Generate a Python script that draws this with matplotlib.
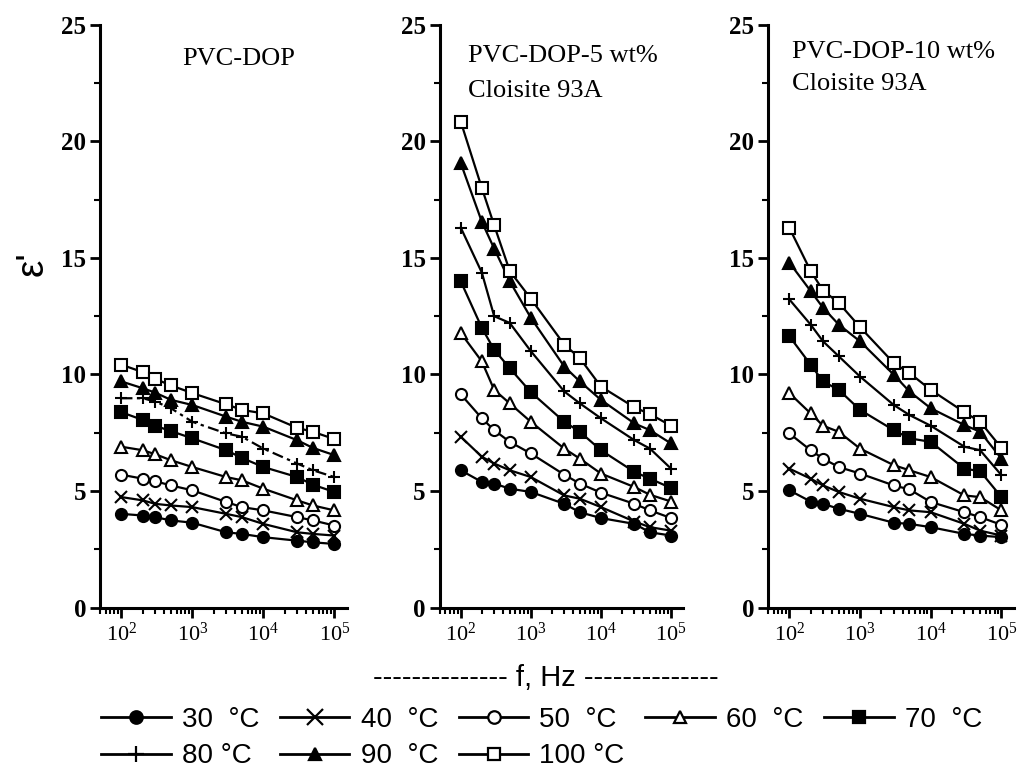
import numpy as np
import matplotlib
matplotlib.use("Agg")
import matplotlib.pyplot as plt
from matplotlib.lines import Line2D
from matplotlib.ticker import LogLocator, MultipleLocator

plt.rcParams["font.family"] = ["Liberation Serif", "DejaVu Serif"]
plt.rcParams["mathtext.fontset"] = "stix"

freq = [100, 200, 300, 500, 1000, 3000, 5000, 1e4, 3e4, 5e4, 1e5]
temps = ["30", "40", "50", "60", "70", "80", "90", "100"]
legend_labels = ["30  °C", "40  °C", "50  °C", "60  °C", "70  °C",
                 "80 °C", "90  °C", "100 °C"]

# PVC-DOP
eps_pvc = [
    [4.02, 3.95, 3.88, 3.74, 3.64, 3.23, 3.16, 3.02, 2.87, 2.80, 2.73],
    [4.74, 4.60, 4.45, 4.38, 4.31, 4.02, 3.88, 3.59, 3.23, 3.16, 3.09],
    [5.70, 5.53, 5.42, 5.24, 5.03, 4.53, 4.31, 4.17, 3.88, 3.74, 3.52],
    [6.90, 6.75, 6.58, 6.32, 6.03, 5.60, 5.46, 5.10, 4.60, 4.38, 4.17],
    [8.38, 8.05, 7.80, 7.57, 7.26, 6.75, 6.42, 6.03, 5.60, 5.27, 4.96],
    [8.98, 8.98, 8.84, 8.55, 7.97, 7.47, 7.33, 6.82, 6.18, 5.89, 5.60],
    [9.70, 9.41, 9.22, 8.91, 8.69, 8.19, 7.97, 7.76, 7.18, 6.85, 6.54],
    [10.42, 10.10, 9.81, 9.53, 9.20, 8.72, 8.48, 8.33, 7.71, 7.54, 7.23],
]

# PVC-DOP-5 wt% Cloisite 93A
eps_5 = [
    [5.89, 5.39, 5.32, 5.10, 4.96, 4.45, 4.09, 3.84, 3.59, 3.23, 3.09],
    [7.33, 6.47, 6.18, 5.89, 5.60, 4.81, 4.67, 4.31, 3.69, 3.45, 3.30],
    [9.15, 8.12, 7.61, 7.11, 6.61, 5.70, 5.32, 4.93, 4.45, 4.17, 3.84],
    [11.78, 10.56, 9.34, 8.76, 7.97, 6.82, 6.39, 5.75, 5.17, 4.84, 4.55],
    [14.0, 12.0, 11.06, 10.27, 9.24, 7.97, 7.54, 6.75, 5.82, 5.53, 5.13],
    [16.3, 14.37, 12.5, 12.21, 11.0, 9.27, 8.76, 8.12, 7.18, 6.82, 5.96],
    [19.07, 16.55, 15.4, 14.0, 12.43, 10.34, 9.70, 8.91, 7.90, 7.61, 7.04],
    [20.85, 18.0, 16.4, 14.44, 13.25, 11.28, 10.7, 9.48, 8.59, 8.30, 7.80],
]

# PVC-DOP-10 wt% Cloisite 93A
eps_10 = [
    [5.03, 4.55, 4.45, 4.24, 4.02, 3.64, 3.59, 3.45, 3.16, 3.09, 3.02],
    [5.96, 5.53, 5.24, 4.96, 4.67, 4.31, 4.17, 4.09, 3.59, 3.30, 3.09],
    [7.47, 6.75, 6.39, 6.03, 5.75, 5.24, 5.07, 4.53, 4.09, 3.88, 3.55],
    [9.20, 8.33, 7.80, 7.54, 6.82, 6.11, 5.89, 5.60, 4.81, 4.74, 4.17],
    [11.64, 10.42, 9.70, 9.34, 8.48, 7.61, 7.26, 7.11, 5.96, 5.85, 4.74],
    [13.22, 12.14, 11.42, 10.78, 9.91, 8.69, 8.26, 7.80, 6.90, 6.75, 5.68],
    [14.80, 13.58, 12.86, 12.14, 11.42, 9.99, 9.27, 8.55, 7.83, 7.54, 6.39],
    [16.29, 14.44, 13.6, 13.07, 12.03, 10.49, 10.06, 9.34, 8.38, 7.97, 6.85],
]

markers = ["o", "x", "o", "^", "s", "+", "^", "s"]
filled = [True, True, False, False, True, True, True, False]

panels = [
    (eps_pvc, ["PVC-DOP"], [0.098, 0.242]),
    (eps_5, ["PVC-DOP-5 wt%", "Cloisite 93A"], [0.431, 0.239]),
    (eps_10, ["PVC-DOP-10 wt%", "Cloisite 93A"], [0.753, 0.241]),
]

fig = plt.figure(figsize=(10.2, 7.74), dpi=100)

title_pos = [
    [(182, 65)],
    [(468, 62), (468, 97)],
    [(792, 58), (792, 90)],
]

for p, (data, title, (left, width)) in enumerate(panels):
    ax = fig.add_axes([left, 0.215, width, 0.753])
    for i, vals in enumerate(data):
        ls = "-"
        if p == 0 and temps[i] == "80":
            ls = (0, (5, 2, 1.5, 2))
        ax.plot(freq, vals, color="black", lw=1.6, ls=ls,
                marker=markers[i], ms=8 if markers[i] not in "x+" else 9,
                mfc="black" if filled[i] else "white", mec="black",
                mew=1.5, zorder=3 + i * 0.01)
    ax.set_xscale("log")
    ax.set_xlim(50, 1.5e5)
    ax.set_ylim(0, 25)
    ax.yaxis.set_major_locator(MultipleLocator(5))
    ax.yaxis.set_minor_locator(MultipleLocator(2.5))
    ax.xaxis.set_major_locator(LogLocator(base=10, numticks=10))
    ax.xaxis.set_minor_locator(LogLocator(base=10, subs=np.arange(2, 10), numticks=20))
    for s in ["top", "right"]:
        ax.spines[s].set_visible(False)
    for s in ["left", "bottom"]:
        ax.spines[s].set_linewidth(2.2)
    ax.tick_params(axis="both", which="major", direction="out", length=7, width=2)
    ax.tick_params(axis="both", which="minor", direction="out", length=4, width=1.5)
    ax.tick_params(axis="y", labelsize=18, pad=3)
    ax.tick_params(axis="x", labelsize=16, pad=4)
    for lab in ax.get_yticklabels():
        lab.set_fontweight("bold")
    for (px, py), line in zip(title_pos[p], title):
        fig.text(px / 1020, 1 - py / 774, line, fontsize=19,
                 ha="left", va="baseline")

fig.text(0.032, 0.66, "ε'", fontsize=28, rotation=90,
         family=["Liberation Sans", "DejaVu Sans"], ha="center", va="center")
fig.text(0.535, 1 - 678 / 774, "-------------- f, Hz --------------",
         fontsize=21, family=["Liberation Sans", "DejaVu Sans"],
         ha="center", va="center")

handles = []
for i in range(len(temps)):
    handles.append(Line2D([], [], color="black", lw=2.0, marker=markers[i],
                          ms=9 if markers[i] not in "x+" else 11,
                          mfc="black" if filled[i] else "white",
                          mec="black", mew=1.6))
order = [0, 5, 1, 6, 2, 7, 3, 4]
leg = fig.legend([handles[k] for k in order], [legend_labels[k] for k in order],
                 ncol=5, loc="center", bbox_to_anchor=(0.531, 1 - 738 / 774),
                 frameon=False, handlelength=2.5, handletextpad=0.4,
                 columnspacing=0.75, labelspacing=0.38,
                 prop={"family": ["Liberation Sans", "DejaVu Sans"], "size": 20})

fig.savefig("out.png", dpi=100)
